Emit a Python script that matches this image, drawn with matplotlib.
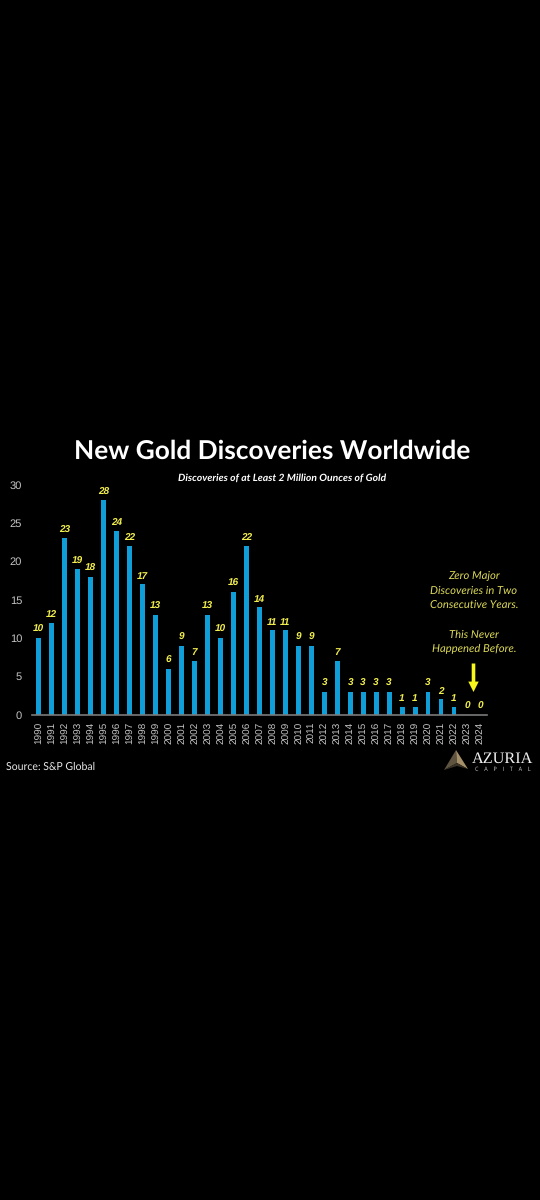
import matplotlib
matplotlib.use("Agg")
import matplotlib.pyplot as plt
from matplotlib.patches import Polygon

plt.rcParams["text.hinting"] = "no_hinting"

years = list(range(1990, 2025))
discoveries = [10, 12, 23, 19, 18, 28, 24, 22, 17, 13, 6, 9, 7, 13, 10, 16, 22, 14, 11, 11, 9, 9, 3, 7, 3, 3, 3, 3, 1, 1, 3, 2, 1, 0, 0]
y_ticks = [0, 5, 10, 15, 20, 25, 30]
title = "New Gold Discoveries Worldwide"
subtitle = "Discoveries of at Least 2 Million Ounces of Gold"
source = "Source: S&P Global"
note = "Zero Major\nDiscoveries in Two\nConsecutive Years.\n\nThis Never\nHappened Before."

W, H = 540, 1200
BLUE = "#0f9ed8"
YEL = "#f2ee4e"
NOTE = "#dcd958"
GREY = "#c4c4c4"

fig = plt.figure(figsize=(W / 100, H / 100), dpi=100, facecolor="black")
L, R, T, B = 32.5, 487.0, 484.7, 714.5
ax = fig.add_axes([L / W, 1 - B / H, (R - L) / W, (B - T) / H], facecolor="black")
step = 12.98
ax.set_xlim(1990 - (38.7 - L) / step, 2024 + (R - 480.0) / step)
ax.set_ylim(0, 30)
ax.bar(years, discoveries, width=0.37, color=BLUE, zorder=2)
for s in ["top", "right", "left"]:
    ax.spines[s].set_visible(False)
ax.spines["bottom"].set_color("#7a7a7a")
ax.spines["bottom"].set_linewidth(1.2)
ax.set_xticks(years)
ax.set_xticklabels([str(y) for y in years], rotation=90, rotation_mode="anchor", ha="right", va="center_baseline",
                   family="Liberation Sans", fontsize=7.2, color=GREY)
ax.set_yticks(y_ticks)
ax.set_yticklabels([str(v) for v in y_ticks], family="Liberation Sans", fontsize=8, color=GREY)
ax.tick_params(axis="both", length=0)
ax.tick_params(axis="x", pad=5)
ax.tick_params(axis="y", pad=7.5)
for x, v in zip(years, discoveries):
    ax.annotate(str(v), (x, v), xytext=(0, 2.5), textcoords="offset points", ha="center", va="bottom",
                family="Liberation Sans", style="italic", weight="bold", fontsize=7.2, color=YEL)

def ftext(px, py, s, **kw):
    fig.text(px / W, 1 - py / H, s, **kw)

ftext(272, 451, title, ha="center", va="center", family="Lato", weight="bold", fontsize=18.9, color="white")
ftext(282.5, 478, subtitle, ha="center", va="center", family="Lato", style="italic", weight="bold", fontsize=7.5, color="white")
ftext(5.5, 766.5, source, ha="left", va="center", family="Lato", fontsize=7.6, color="#e8e8e8")
ftext(474, 612.5, note, ha="center", va="center", family="Lato", style="italic", fontsize=8.15,
      color=NOTE, linespacing=1.56)

# arrow
ax_arrow = fig.add_axes([0, 0, 1, 1], facecolor="none")
ax_arrow.set_xlim(0, W)
ax_arrow.set_ylim(H, 0)
ax_arrow.axis("off")
ax_arrow.annotate("", xy=(473.5, 692), xytext=(473.5, 663.5),
                  arrowprops=dict(facecolor="#f7f71c", edgecolor="none", width=2.6, headwidth=7.5, headlength=7.5, shrink=0))
# logo
ax_arrow.add_patch(Polygon([(444, 770), (456, 750), (457, 763)], closed=True, facecolor="#5e5440", edgecolor="none"))
ax_arrow.add_patch(Polygon([(456, 750), (468, 769), (457, 763)], closed=True, facecolor="#a5906a", edgecolor="none"))
ax_arrow.add_patch(Polygon([(444, 770), (457, 763), (468, 769), (457, 766)], closed=True, facecolor="#3a3226", edgecolor="none"))
ftext(503, 758.5, "AZURIA", ha="center", va="center", family="Liberation Serif", fontsize=11.7, color="#f0f0f0")
ftext(503, 769.5, "C    A    P    I    T    A    L", ha="center", va="center", family="Open Sans", fontsize=4.0, color="#d0d0d0")

fig.savefig("out.png", dpi=100, facecolor="black")
